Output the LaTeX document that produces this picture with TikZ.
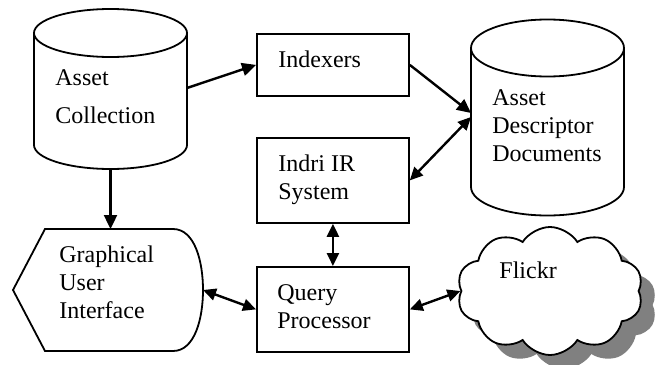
\documentclass[tikz,border=0pt]{standalone}
\usepackage{fontspec}
\setmainfont{Liberation Serif}
\usetikzlibrary{arrows.meta,shapes.symbols}
\definecolor{shadowgray}{RGB}{128,128,128}
\begin{document}
\begin{tikzpicture}[x=0.5pt,y=-0.5pt,
  shp/.style={draw=black,line width=0.9pt},
  lbl/.style={anchor=north west,inner sep=0pt,align=left,font=\fontsize{12}{14}\selectfont},
  conn/.style={line width=1.2pt,-{Triangle[length=7pt,width=6.5pt]}},
  dconn/.style={line width=1.2pt,{Triangle[length=6.5pt,width=6pt]}-{Triangle[length=6.5pt,width=6pt]}},
  bx/.style={shp,rectangle,inner sep=0pt,anchor=north west,minimum width=76pt},
  ghost/.style={inner sep=0pt,outer sep=0pt},
  cloudshape/.style={cloud,cloud puffs=10,cloud puff arc=115,aspect=1.45,inner sep=0pt,minimum width=93pt,minimum height=64pt}]
\useasboundingbox (0,0) rectangle (658,364);

% Asset Collection cylinder
\node[ghost,minimum width=76.5pt,minimum height=80pt] (ac) at (110.5,88) {};
\draw[shp] (34,33) -- (34,145) arc[start angle=180,end angle=0,x radius=76.5,y radius=24] -- (187,33);
\draw[shp] (110.5,33) ellipse[x radius=76.5,y radius=24];
\node[lbl] (acT) at (55,69) {Asset\\[5pt]Collection};

% Asset Descriptor Documents cylinder
\node[ghost,minimum width=76.5pt,minimum height=98pt] (add) at (547.5,117) {};
\draw[shp] (471,48) -- (471,187) arc[start angle=180,end angle=0,x radius=76.5,y radius=28.5] -- (624,48);
\draw[shp] (547.5,48) ellipse[x radius=76.5,y radius=28.5];
\node[lbl] (addT) at (492,89) {Asset\\Descriptor\\Documents};

% Boxes
\node[bx,minimum height=31pt] (idx) at (256,33) {};
\node[lbl] (idxT) at (278,50.6) {Indexers};
\node[bx,minimum height=42.5pt] (indri) at (256,137) {};
\node[lbl] (indriT) at (278,154.6) {Indri IR\\System};
\node[bx,minimum height=42.5pt] (qp) at (256,266) {};
\node[lbl] (qpT) at (277,284) {Query\\Processor};

% Graphical User Interface (display shape)
\node[ghost,minimum width=95pt,minimum height=61pt] (gui) at (108,290) {};
\draw[shp] (45,229) -- (173,229) .. controls (195,229) and (203,262) .. (203,290)
  .. controls (203,318) and (195,351) .. (173,351) -- (45,351) -- (13,290) -- cycle;
\node[lbl] (guiT) at (59,245) {Graphical\\User\\Interface};

% Flickr cloud with shadow
\node[cloudshape,fill=shadowgray] (flshadow) at (564,305) {};
\node[cloudshape,shp,fill=white] (flickr) at (550,291) {};
\node[lbl] (flT) at (499,261.6) {Flickr};

% Connectors
\draw[conn] (ac.east) -- (idx.west);
\draw[conn] (idx.east) -- ([yshift=2pt]add.west);
\draw[dconn] (indri.east) -- (add.west);
\draw[conn] (ac.south) -- (ac.south |- gui.north);
\draw[dconn] (indri.south) -- (qp.north);
\draw[dconn] (gui.east) -- (qp.west);
\draw[dconn] (qp.east) -- (flickr.west);
\end{tikzpicture}
\end{document}
